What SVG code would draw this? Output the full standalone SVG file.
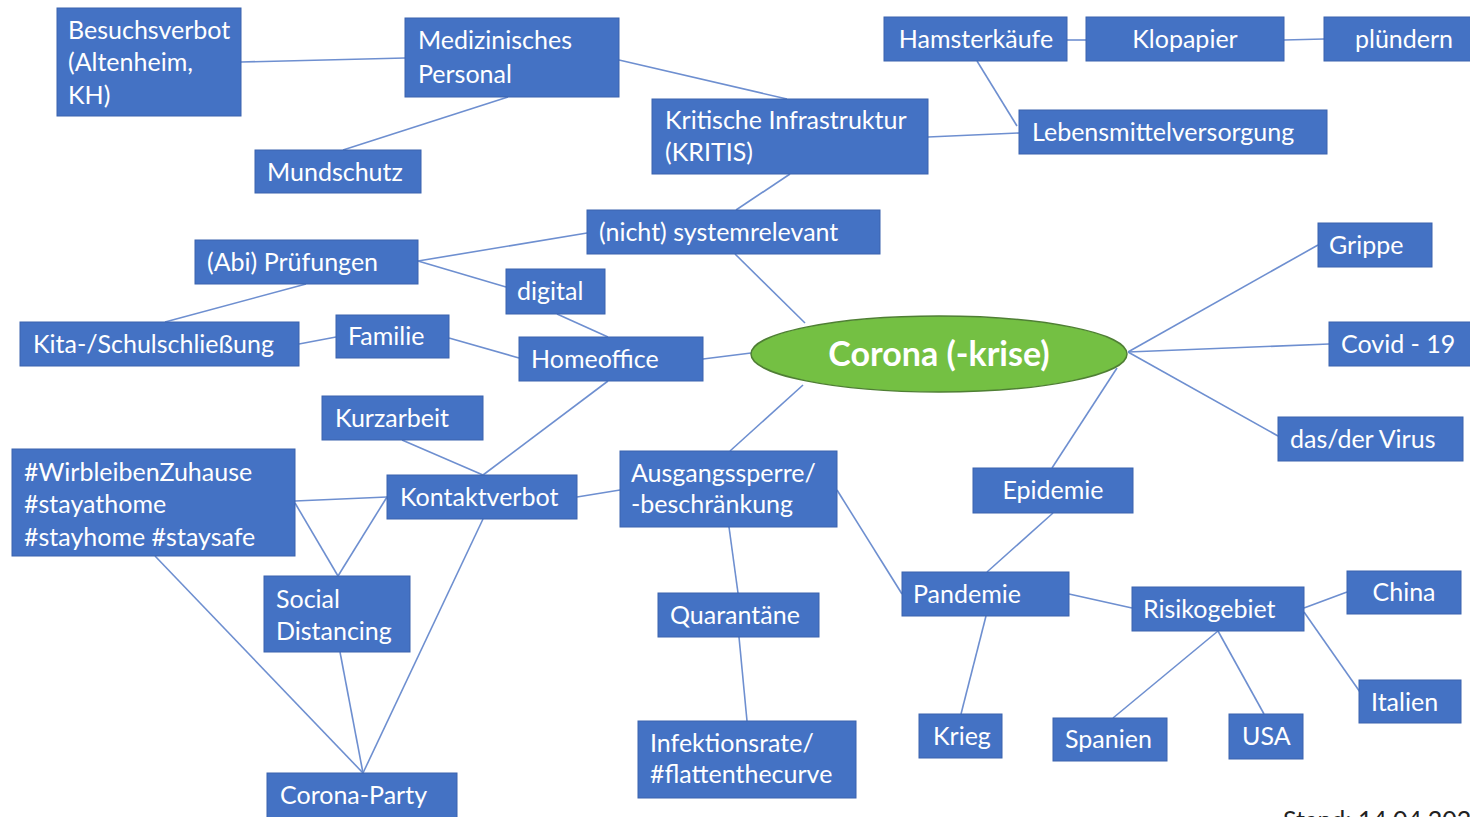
<svg xmlns="http://www.w3.org/2000/svg" width="1470" height="817" viewBox="0 0 1470 817">
<style>
.b{fill:#4472C4;stroke:#3A63AE;stroke-width:1}
.t{fill:#FFFFFF;font-family:Lato,"Liberation Sans",sans-serif;font-size:25px}
.c{text-anchor:middle}
.l{stroke:#6E8FD0;stroke-width:1.6;fill:none}
</style>
<rect width="1470" height="817" fill="#FFFFFF"/>
<g id="connectors" class="l">
<line x1="241" y1="62" x2="405" y2="58"/>
<line x1="508" y1="97" x2="343" y2="150"/>
<line x1="619" y1="60" x2="787" y2="99"/>
<line x1="790" y1="174" x2="736" y2="210"/>
<line x1="928" y1="137" x2="1019" y2="133"/>
<line x1="977" y1="61" x2="1017" y2="126"/>
<line x1="1067" y1="40" x2="1086" y2="40"/>
<line x1="1284" y1="40" x2="1324" y2="39"/>
<line x1="587" y1="233" x2="418" y2="261"/>
<line x1="735" y1="254" x2="805" y2="323"/>
<line x1="418" y1="261" x2="506" y2="287"/>
<line x1="306" y1="284" x2="165" y2="322"/>
<line x1="557" y1="314" x2="608" y2="337"/>
<line x1="299" y1="344" x2="336" y2="337"/>
<line x1="449" y1="338" x2="519" y2="358"/>
<line x1="703" y1="359" x2="751" y2="353"/>
<line x1="608" y1="381" x2="483" y2="475"/>
<line x1="402" y1="440" x2="483" y2="475"/>
<line x1="803" y1="385" x2="730" y2="451"/>
<line x1="1128" y1="352" x2="1318" y2="245"/>
<line x1="1128" y1="352" x2="1329" y2="344"/>
<line x1="1128" y1="352" x2="1278" y2="436"/>
<line x1="1117" y1="368" x2="1052" y2="468"/>
<line x1="1053" y1="513" x2="987" y2="572"/>
<line x1="837" y1="490" x2="902" y2="594"/>
<line x1="620" y1="490" x2="577" y2="497"/>
<line x1="729" y1="527" x2="738" y2="593"/>
<line x1="739" y1="637" x2="747" y2="721"/>
<line x1="387" y1="497" x2="295" y2="501"/>
<line x1="387" y1="497" x2="338" y2="576"/>
<line x1="295" y1="503" x2="338" y2="576"/>
<line x1="155" y1="556" x2="363" y2="773"/>
<line x1="340" y1="652" x2="363" y2="773"/>
<line x1="483" y1="519" x2="363" y2="773"/>
<line x1="1069" y1="594" x2="1132" y2="608"/>
<line x1="986" y1="616" x2="961" y2="714"/>
<line x1="1304" y1="608" x2="1347" y2="592"/>
<line x1="1304" y1="612" x2="1360" y2="692"/>
<line x1="1218" y1="631" x2="1113" y2="718"/>
<line x1="1218" y1="631" x2="1264" y2="714"/>
</g>
<g id="n-besuchsverbot"><rect class="b" x="57" y="8" width="184" height="108"/><text class="t" x="68" y="39">Besuchsverbot</text><text class="t" x="68" y="71">(Altenheim,</text><text class="t" x="68" y="104">KH)</text></g>
<g id="n-medizinisches"><rect class="b" x="405" y="18" width="214" height="79"/><text class="t" x="418" y="49">Medizinisches</text><text class="t" x="418" y="83">Personal</text></g>
<g id="n-mundschutz"><rect class="b" x="255" y="150" width="166" height="43"/><text class="t" x="267" y="181">Mundschutz</text></g>
<g id="n-kritis"><rect class="b" x="652" y="99" width="276" height="75"/><text class="t" x="665" y="129">Kritische Infrastruktur</text><text class="t" x="665" y="161">(KRITIS)</text></g>
<g id="n-hamsterkaeufe"><rect class="b" x="884" y="17" width="183" height="44"/><text class="t c" x="976" y="48">Hamsterkäufe</text></g>
<g id="n-klopapier"><rect class="b" x="1086" y="17" width="198" height="44"/><text class="t c" x="1185" y="48">Klopapier</text></g>
<g id="n-pluendern"><rect class="b" x="1324" y="17" width="150" height="44"/><text class="t" x="1355" y="48">plündern</text></g>
<g id="n-lebensmittel"><rect class="b" x="1019" y="110" width="308" height="44"/><text class="t" x="1032" y="141">Lebensmittelversorgung</text></g>
<g id="n-systemrelevant"><rect class="b" x="587" y="210" width="293" height="44"/><text class="t" x="599" y="241">(nicht) systemrelevant</text></g>
<g id="n-pruefungen"><rect class="b" x="195" y="240" width="223" height="44"/><text class="t" x="207" y="271">(Abi) Prüfungen</text></g>
<g id="n-digital"><rect class="b" x="506" y="269" width="99" height="45"/><text class="t" x="517" y="300">digital</text></g>
<g id="n-kita"><rect class="b" x="20" y="322" width="279" height="44"/><text class="t" x="33" y="353">Kita-/Schulschließung</text></g>
<g id="n-familie"><rect class="b" x="336" y="315" width="113" height="43"/><text class="t" x="348" y="345">Familie</text></g>
<g id="n-homeoffice"><rect class="b" x="519" y="337" width="184" height="44"/><text class="t" x="531" y="368">Homeoffice</text></g>
<g id="n-corona"><ellipse cx="939" cy="354" rx="188" ry="38" fill="#74C043" stroke="#4F7F34" stroke-width="1.5"/><text x="939" y="366" text-anchor="middle" fill="#FFFFFF" font-family="Lato,'Liberation Sans',sans-serif" font-size="34" font-weight="bold">Corona (-krise)</text></g>
<g id="n-grippe"><rect class="b" x="1318" y="223" width="114" height="44"/><text class="t" x="1329" y="254">Grippe</text></g>
<g id="n-covid"><rect class="b" x="1329" y="322" width="145" height="44"/><text class="t" x="1341" y="353">Covid - 19</text></g>
<g id="n-virus"><rect class="b" x="1278" y="417" width="185" height="44"/><text class="t" x="1290" y="448">das/der Virus</text></g>
<g id="n-epidemie"><rect class="b" x="973" y="468" width="160" height="45"/><text class="t c" x="1053" y="499">Epidemie</text></g>
<g id="n-kurzarbeit"><rect class="b" x="322" y="396" width="161" height="44"/><text class="t" x="335" y="427">Kurzarbeit</text></g>
<g id="n-hashtags"><rect class="b" x="12" y="449" width="283" height="107"/><text class="t" x="24" y="481">#WirbleibenZuhause</text><text class="t" x="24" y="513">#stayathome</text><text class="t" x="24" y="546">#stayhome #staysafe</text></g>
<g id="n-kontaktverbot"><rect class="b" x="387" y="475" width="190" height="44"/><text class="t" x="400" y="506">Kontaktverbot</text></g>
<g id="n-ausgangssperre"><rect class="b" x="620" y="451" width="217" height="76"/><text class="t" x="631" y="482">Ausgangssperre/</text><text class="t" x="631" y="513">-beschränkung</text></g>
<g id="n-social"><rect class="b" x="264" y="576" width="146" height="76"/><text class="t" x="276" y="608">Social</text><text class="t" x="276" y="640">Distancing</text></g>
<g id="n-quarantaene"><rect class="b" x="658" y="593" width="161" height="44"/><text class="t" x="670" y="624">Quarantäne</text></g>
<g id="n-pandemie"><rect class="b" x="902" y="572" width="167" height="44"/><text class="t" x="913" y="603">Pandemie</text></g>
<g id="n-risikogebiet"><rect class="b" x="1132" y="587" width="172" height="44"/><text class="t" x="1143" y="618">Risikogebiet</text></g>
<g id="n-china"><rect class="b" x="1347" y="571" width="114" height="43"/><text class="t c" x="1404" y="601">China</text></g>
<g id="n-italien"><rect class="b" x="1359" y="680" width="102" height="43"/><text class="t" x="1371" y="711">Italien</text></g>
<g id="n-krieg"><rect class="b" x="919" y="714" width="83" height="44"/><text class="t" x="933" y="745">Krieg</text></g>
<g id="n-spanien"><rect class="b" x="1053" y="718" width="114" height="43"/><text class="t" x="1065" y="748">Spanien</text></g>
<g id="n-usa"><rect class="b" x="1229" y="714" width="74" height="45"/><text class="t" x="1242" y="745">USA</text></g>
<g id="n-infektionsrate"><rect class="b" x="638" y="721" width="218" height="77"/><text class="t" x="650" y="752">Infektionsrate/</text><text class="t" x="650" y="783">#flattenthecurve</text></g>
<g id="n-coronaparty"><rect class="b" x="267" y="773" width="190" height="50"/><text class="t" x="280" y="804">Corona-Party</text></g>
<text x="1283" y="829" fill="#222222" font-family="Lato,'Liberation Sans',sans-serif" font-size="25">Stand: 14.04.2020</text>
</svg>
